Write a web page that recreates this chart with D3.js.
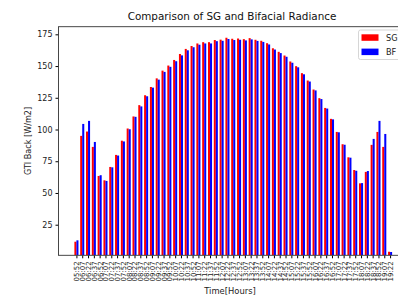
<!DOCTYPE html>
<html>
<head>
<meta charset="utf-8">
<script src="https://cdn.jsdelivr.net/npm/d3@7"></script>
<style>
  body { margin: 0; background: #fff; }
  svg { display: block; font-family: "DejaVu Sans", sans-serif; }
</style>
</head>
<body>
<div id="wrapper"></div>
<script>
// time stamps (x categories)
const times = ["05:52","06:07","06:22","06:37","06:52","07:07","07:22","07:37","07:52","08:07",
    "08:22","08:37","08:52","09:07","09:22","09:37","09:52","10:07","10:22","10:37",
    "10:52","11:07","11:22","11:37","11:52","12:07","12:22","12:37","12:52","13:07",
    "13:22","13:37","13:52","14:07","14:22","14:37","14:52","15:07","15:22","15:37",
    "15:52","16:07","16:22","16:37","16:52","17:07","17:22","17:37","17:52","18:07",
    "18:22","18:37","18:52","19:07","19:22"]

// SG series
const sgValues = [11.6, 95, 98.4, 86.3, 63.4, 60, 70.5, 80, 91.2, 100.8,
    110.3, 119.2, 127, 133.5, 140.3, 146.4, 150.4, 154.8, 159.5, 163.5,
    165.8, 167.8, 168.8, 168.8, 170.5, 170.8, 172.3, 171.5, 171.7, 171.2,
    172, 170.7, 169.9, 168, 164, 161.2, 158.3, 153.6, 149.9, 144.4,
    138.6, 131.5, 124.7, 117, 108.4, 98.1, 88.4, 78.1, 68.1, 57.6,
    66.6, 87.9, 98.1, 86.3, 3.7]

// BF series
const bfValues = [12.7, 104.4, 106.8, 90.2, 64, 59.5, 70.2, 79.5, 90.6, 100.2,
    110, 118.2, 126.2, 133, 139.3, 145.4, 149.4, 153.8, 158.4, 162.4,
    164.8, 166.8, 167.8, 167.8, 169.6, 169.9, 171.3, 170.5, 170.7, 170.2,
    171, 169.8, 169, 167, 163, 160.2, 157.3, 152.6, 149, 143.5,
    137.8, 130.8, 124, 116.5, 108, 97.8, 88, 77.8, 67.5, 57.8,
    67.3, 92.6, 106.8, 96.5, 3.5]

const yTicks = [25, 50, 75, 100, 125, 150, 175]

const seriesNames = ["SG", "BF"]
const seriesColors = ["#ff0000", "#0000ff"]

// Chart setup
let dimensions = {
    width: 398,
    height: 299,
    margin: { top: 26.7, right: -10, bottom: 43.7, left: 58.5 },
}
dimensions.boundedWidth = dimensions.width - dimensions.margin.left - dimensions.margin.right
dimensions.boundedHeight = dimensions.height - dimensions.margin.top - dimensions.margin.bottom

const barWidth = 0.35

const xScale = d3.scaleLinear()
    .domain([-barWidth - 2.735, times.length - 1 + barWidth + 2.735])
    .range([0, dimensions.boundedWidth])

const yScale = d3.scaleLinear()
    .domain([0.9, 181])
    .range([dimensions.boundedHeight, 0])

// Draw canvas
const wrapper = d3.select("#wrapper")
    .append("svg")
        .attr("width", dimensions.width)
        .attr("height", dimensions.height)

wrapper.append("rect")
    .attr("width", dimensions.width)
    .attr("height", dimensions.height)
    .attr("fill", "white")

const bounds = wrapper.append("g")
    .attr("transform", `translate(${dimensions.margin.left},${dimensions.margin.top})`)

bounds.append("clipPath").attr("id", "clip")
    .append("rect")
    .attr("width", dimensions.boundedWidth)
    .attr("height", dimensions.boundedHeight)

const barsG = bounds.append("g").attr("clip-path", "url(#clip)")

// SG bars sit left of the tick, BF bars right of it
barsG.selectAll(".sg")
    .data(sgValues)
    .join("rect")
    .attr("class", "sg")
    .attr("x", (d, i) => xScale(i - barWidth))
    .attr("width", (d, i) => xScale(i) - xScale(i - barWidth))
    .attr("y", d => yScale(d))
    .attr("height", d => dimensions.boundedHeight - yScale(d))
    .attr("fill", seriesColors[0])

barsG.selectAll(".bf")
    .data(bfValues)
    .join("rect")
    .attr("class", "bf")
    .attr("x", (d, i) => xScale(i))
    .attr("width", (d, i) => xScale(i + barWidth) - xScale(i))
    .attr("y", d => yScale(d))
    .attr("height", d => dimensions.boundedHeight - yScale(d))
    .attr("fill", seriesColors[1])

// axes
const yAxis = d3.axisLeft(yScale)
    .tickValues(yTicks)
    .tickSize(3)
    .tickPadding(3)

const yAxisG = bounds.append("g").call(yAxis)
yAxisG.select(".domain").remove()
yAxisG.selectAll("text")
    .attr("font-size", 8)
    .attr("font-family", "DejaVu Sans")
    .attr("fill", "#222")

const xAxis = d3.axisBottom(xScale)
    .tickValues(d3.range(times.length))
    .tickFormat(i => times[i])
    .tickSize(3)
    .tickPadding(2)

const xAxisG = bounds.append("g")
    .attr("transform", `translate(0,${dimensions.boundedHeight})`)
    .call(xAxis)
xAxisG.select(".domain").remove()
xAxisG.selectAll("text")
    .attr("font-size", 7)
    .attr("font-family", "DejaVu Sans")
    .attr("fill", "#222")
    .attr("text-anchor", "end")
    .attr("transform", "rotate(-90)")
    .attr("x", -6)
    .attr("y", 0)
    .attr("dy", "0.35em")

// spines (left, top, bottom; right one falls outside the picture)
bounds.append("rect")
    .attr("width", dimensions.boundedWidth)
    .attr("height", dimensions.boundedHeight)
    .attr("fill", "none")
    .attr("stroke", "#333")
    .attr("stroke-width", 0.9)

// title and labels
wrapper.append("text")
    .attr("x", 232)
    .attr("y", 20)
    .attr("text-anchor", "middle")
    .attr("font-size", 10.4)
    .attr("fill", "#111")
    .text("Comparison of SG and Bifacial Radiance")

wrapper.append("text")
    .attr("x", 230)
    .attr("y", 294)
    .attr("text-anchor", "middle")
    .attr("font-size", 8.4)
    .attr("fill", "#222")
    .text("Time[Hours]")

wrapper.append("text")
    .attr("transform", `translate(30.5,141) rotate(-90)`)
    .attr("text-anchor", "middle")
    .attr("font-size", 8.1)
    .attr("fill", "#222")
    .text("GTI Back [W/m2]")

// legend
const legend = wrapper.append("g").attr("transform", "translate(358.5,30)")
legend.append("rect")
    .attr("width", 60)
    .attr("height", 29.5)
    .attr("rx", 2)
    .attr("fill", "white")
    .attr("fill-opacity", 0.8)
    .attr("stroke", "#ccc")
    .attr("stroke-width", 0.8)

const legendItems = legend.selectAll(".item")
    .data(seriesNames)
    .join("g")
    .attr("class", "item")
    .attr("transform", (d, i) => `translate(3,${4.3 + i * 14.3})`)

legendItems.append("rect")
    .attr("width", 17)
    .attr("height", 6.5)
    .attr("fill", (d, i) => seriesColors[i])

legendItems.append("text")
    .attr("x", 24.5)
    .attr("y", 6.8)
    .attr("font-size", 8.2)
    .attr("fill", "#222")
    .text(d => d)
</script>
</body>
</html>
